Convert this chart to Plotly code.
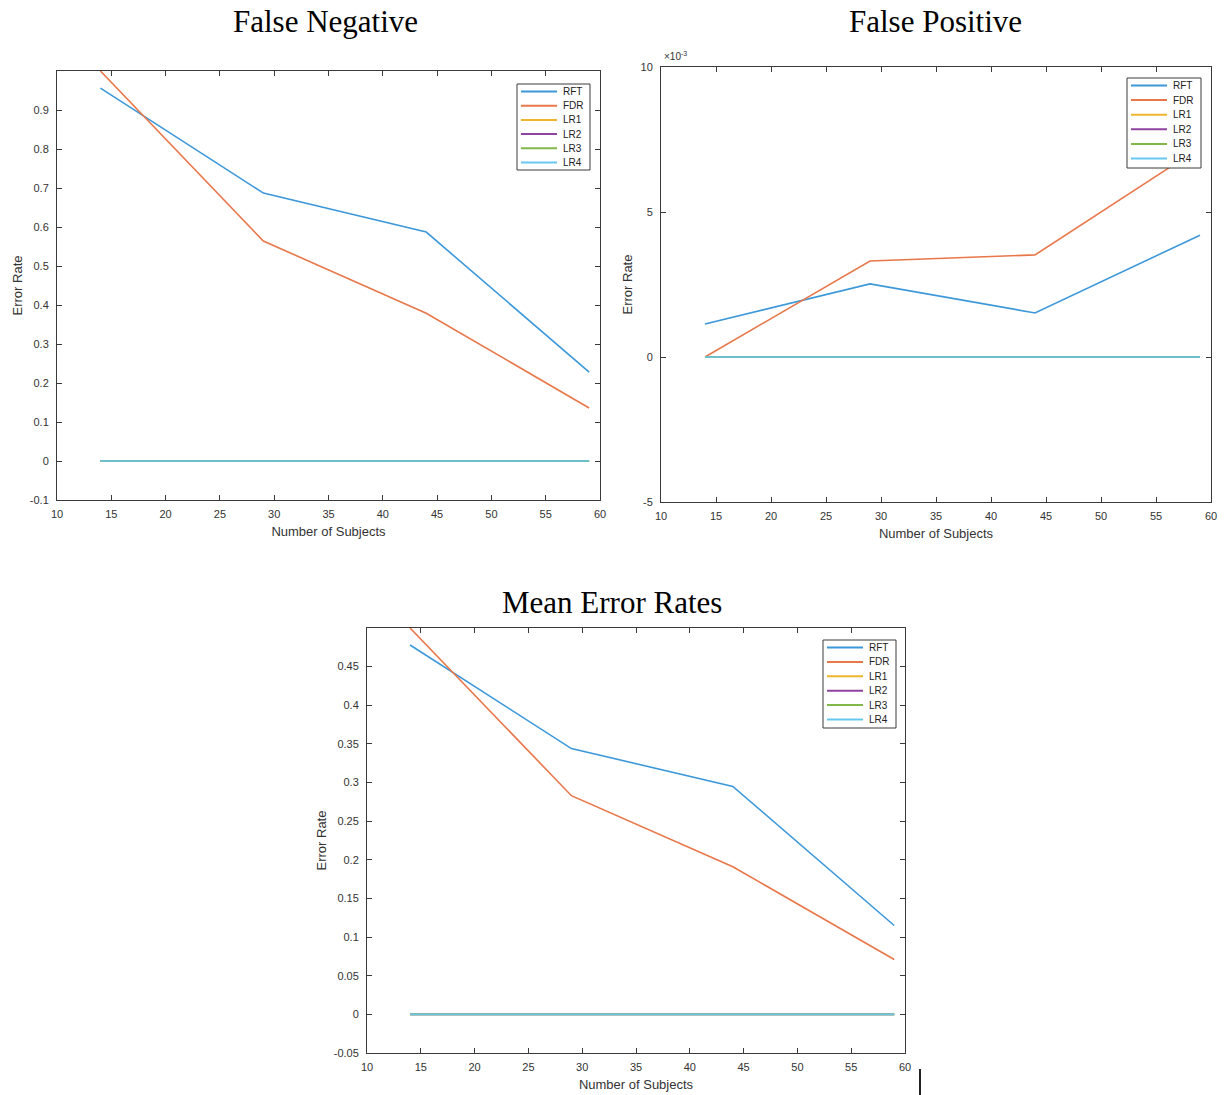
import plotly.graph_objects as go

# ---- data ----
subjects = [14, 29, 44, 59]
methods = ["RFT", "FDR", "LR1", "LR2", "LR3", "LR4"]

fn_rft = [0.956, 0.687, 0.587, 0.228]
fn_fdr = [1.0, 0.564, 0.379, 0.136]
fn_lr = [0, 0, 0, 0]

fp_rft = [0.00114, 0.00252, 0.00152, 0.00420]
fp_fdr = [0.0, 0.00331, 0.00352, 0.00722]
fp_lr = [0, 0, 0, 0]

mean_rft = [0.478, 0.344, 0.295, 0.115]
mean_fdr = [0.500, 0.283, 0.191, 0.071]
mean_lr = [0, 0, 0, 0]

colors = ["#3d98d9", "#e8774a", "#efb52e", "#8e44a0", "#80b84a", "#66c8f0"]

fn_ticks = [-0.1, 0, 0.1, 0.2, 0.3, 0.4, 0.5, 0.6, 0.7, 0.8, 0.9]
fn_ticktext = ["-0.1", "0", "0.1", "0.2", "0.3", "0.4", "0.5", "0.6", "0.7", "0.8", "0.9"]
fp_ticks = [-0.005, 0, 0.005, 0.01]
fp_ticktext = ["-5", "0", "5", "10"]
mean_ticks = [-0.05, 0, 0.05, 0.1, 0.15, 0.2, 0.25, 0.3, 0.35, 0.4, 0.45]
mean_ticktext = ["-0.05", "0", "0.05", "0.1", "0.15", "0.2", "0.25", "0.3", "0.35", "0.4", "0.45"]
x_ticks = [10, 15, 20, 25, 30, 35, 40, 45, 50, 55, 60]

W, H = 1225, 1095

fig = go.Figure()

panels = [
    ("x", "y", [fn_rft, fn_fdr, fn_lr, fn_lr, fn_lr, fn_lr]),
    ("x2", "y2", [fp_rft, fp_fdr, fp_lr, fp_lr, fp_lr, fp_lr]),
    ("x3", "y3", [mean_rft, mean_fdr, mean_lr, mean_lr, mean_lr, mean_lr]),
]
for xa, ya, series in panels:
    for name, vals, col in zip(methods, series, colors):
        fig.add_trace(go.Scatter(
            x=subjects, y=vals, name=name, mode="lines",
            line=dict(color=col, width=1.6),
            xaxis=xa, yaxis=ya, showlegend=False, cliponaxis=True,
        ))

def px_x(p):
    return p / W

def px_y(p):
    return 1 - p / H

axis_common = dict(
    showline=True, linecolor="#3a3a3a", linewidth=1, mirror="ticks",
    ticks="inside", ticklen=5, tickcolor="#3a3a3a", showgrid=False, zeroline=False,
    automargin=False,
    tickfont=dict(family="Liberation Sans, Arial", size=11, color="#333333"),
)
title_font = dict(family="Liberation Sans, Arial", size=13, color="#333333")

def xaxis(dom, anchor):
    return dict(axis_common, domain=dom, anchor=anchor, range=[10, 60],
                tickvals=x_ticks, ticklabelstandoff=4,
                title=dict(text="Number of Subjects", font=title_font, standoff=7))

def yaxis(dom, anchor, rng, tv, tt):
    return dict(axis_common, domain=dom, anchor=anchor, range=rng,
                tickvals=tv, ticktext=tt, ticklabelstandoff=5,
                title=dict(text="Error Rate", font=title_font, standoff=4))

fig.update_layout(
    width=W, height=H, margin=dict(l=0, r=0, t=0, b=0, autoexpand=False),
    paper_bgcolor="white", plot_bgcolor="white",
    xaxis=xaxis([px_x(57), px_x(600)], "y"),
    yaxis=yaxis([px_y(500), px_y(71)], "x", [-0.1, 1.0], fn_ticks, fn_ticktext),
    xaxis2=xaxis([px_x(661), px_x(1211)], "y2"),
    yaxis2=yaxis([px_y(502), px_y(67)], "x2", [-0.005, 0.010], fp_ticks, fp_ticktext),
    xaxis3=xaxis([px_x(367), px_x(905)], "y3"),
    yaxis3=yaxis([px_y(1053), px_y(628)], "x3", [-0.05, 0.5], mean_ticks, mean_ticktext),
    showlegend=False,
)

# ---- legends (MATLAB-style boxed legends) ----
def add_legend(left, top, width, height, step):
    fig.add_shape(type="rect", xref="paper", yref="paper",
                  x0=px_x(left), x1=px_x(left + width), y0=px_y(top + height), y1=px_y(top),
                  line=dict(color="#3a3a3a", width=1), fillcolor="white", layer="above")
    for i, (name, col) in enumerate(zip(methods, colors)):
        yy = top + 7.5 + i * step
        fig.add_shape(type="line", xref="paper", yref="paper",
                      x0=px_x(left + 4), x1=px_x(left + 40), y0=px_y(yy), y1=px_y(yy),
                      line=dict(color=col, width=2), layer="above")
        fig.add_annotation(text=name, x=px_x(left + 44), y=px_y(yy), xref="paper", yref="paper",
                           showarrow=False, xanchor="left", yanchor="middle",
                           font=dict(family="Liberation Sans, Arial", size=10, color="#222222"))

add_legend(517, 84, 73, 86, 14.2)
add_legend(1127, 78, 74, 90, 14.6)
add_legend(823, 640, 73, 88, 14.4)

serif = dict(family="Liberation Serif, Times New Roman, serif", size=31, color="#000000")
titles = [("False Negative", 325, 22), ("False Positive", 936, 22), ("Mean Error Rates", 612, 602)]
for txt, cx, cy in titles:
    fig.add_annotation(text=txt, x=px_x(cx), y=px_y(cy), xref="paper", yref="paper",
                       showarrow=False, font=serif, xanchor="center", yanchor="middle")

fig.add_annotation(text="×10<sup>-3</sup>", x=px_x(662), y=px_y(64), xref="paper", yref="paper",
                   showarrow=False, xanchor="left", yanchor="bottom",
                   font=dict(family="Liberation Sans, Arial", size=10, color="#333333"))

# stray cursor mark in the screenshot
fig.add_shape(type="line", xref="paper", yref="paper",
              x0=px_x(920), x1=px_x(920), y0=px_y(1069), y1=px_y(1095),
              line=dict(color="#222222", width=2))

fig.write_html("out.html")
